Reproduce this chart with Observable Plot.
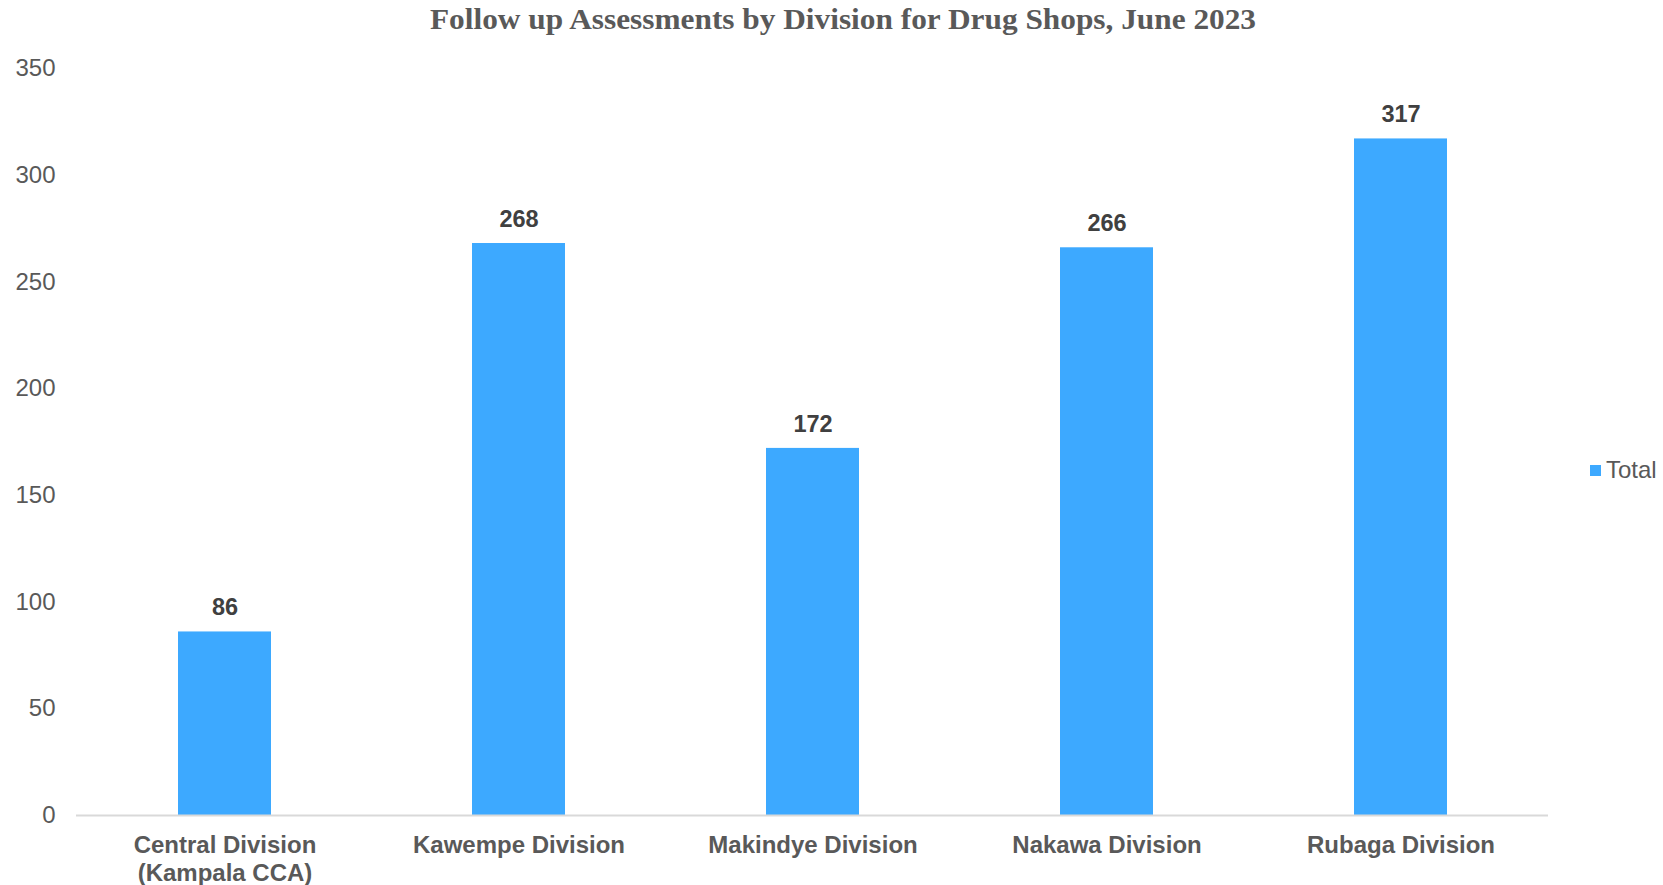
<!DOCTYPE html>
<html>
<head>
<meta charset="utf-8">
<script src="https://cdn.jsdelivr.net/npm/d3@7"></script>
<script src="https://cdn.jsdelivr.net/npm/@observablehq/plot@0.6"></script>
<style>
  html, body { margin: 0; padding: 0; background: #fff; }
  #wrap { position: relative; width: 1663px; height: 885px; font-family: "Liberation Sans", Arial, sans-serif; }
  #title { position: absolute; left: 0; width: 1686px; top: 3px; text-align: center;
    font-family: "Liberation Serif", "DejaVu Serif", serif; font-weight: bold; font-size: 29px;
    color: #595959; transform: scaleX(1.08); transform-origin: 843px 0; white-space: nowrap; }
  #legend { position: absolute; left: 1590px; top: 456px; font-size: 24px; color: #595959; display: flex; align-items: center; }
  #legend span.sw { display: inline-block; width: 11px; height: 11px; background: #3DA9FF; margin-right: 5px; }
  #chart { position: absolute; left: 0; top: 0; }
</style>
</head>
<body>
<div id="wrap">
  <div id="chart"></div>
  <div id="title">Follow up Assessments by Division for Drug Shops, June 2023</div>
  <div id="legend"><span class="sw"></span>Total</div>
</div>
<script>
const categories = ["Central Division\n(Kampala CCA)", "Kawempe Division", "Makindye Division", "Nakawa Division", "Rubaga Division"];
const totals = [86, 268, 172, 266, 317];
const yTicks = [0, 50, 100, 150, 200, 250, 300, 350];

const data = categories.map((c, i) => ({division: c, total: totals[i]}));

const chart = Plot.plot({
  width: 1663,
  height: 885,
  marginTop: 68,
  marginBottom: 70,
  marginLeft: 76,
  marginRight: 115,
  style: {fontFamily: "'Liberation Sans', Arial, sans-serif", background: "#fff"},
  x: {domain: categories, paddingInner: 0.685, paddingOuter: 0.3425, label: null},
  y: {domain: [0, 350], label: null},
  marks: [
    Plot.axisY({ticks: yTicks, tickSize: 0, tickPadding: 21, fontSize: 24, color: "#595959", label: null}),
    Plot.axisX({tickSize: 0, tickPadding: 18, fontSize: 24, fontWeight: "bold", color: "#595959", lineHeight: 1.15, label: null}),
    Plot.barY(data, {x: "division", y: "total", fill: "#3DA9FF"}),
    Plot.ruleY([0], {stroke: "#D9D9D9", strokeWidth: 2}),
    Plot.text(data, {x: "division", y: "total", text: d => String(d.total), dy: -24, fontSize: 23.5, fontWeight: "bold", fill: "#404040"})
  ]
});
document.getElementById("chart").appendChild(chart);
</script>
</body>
</html>
